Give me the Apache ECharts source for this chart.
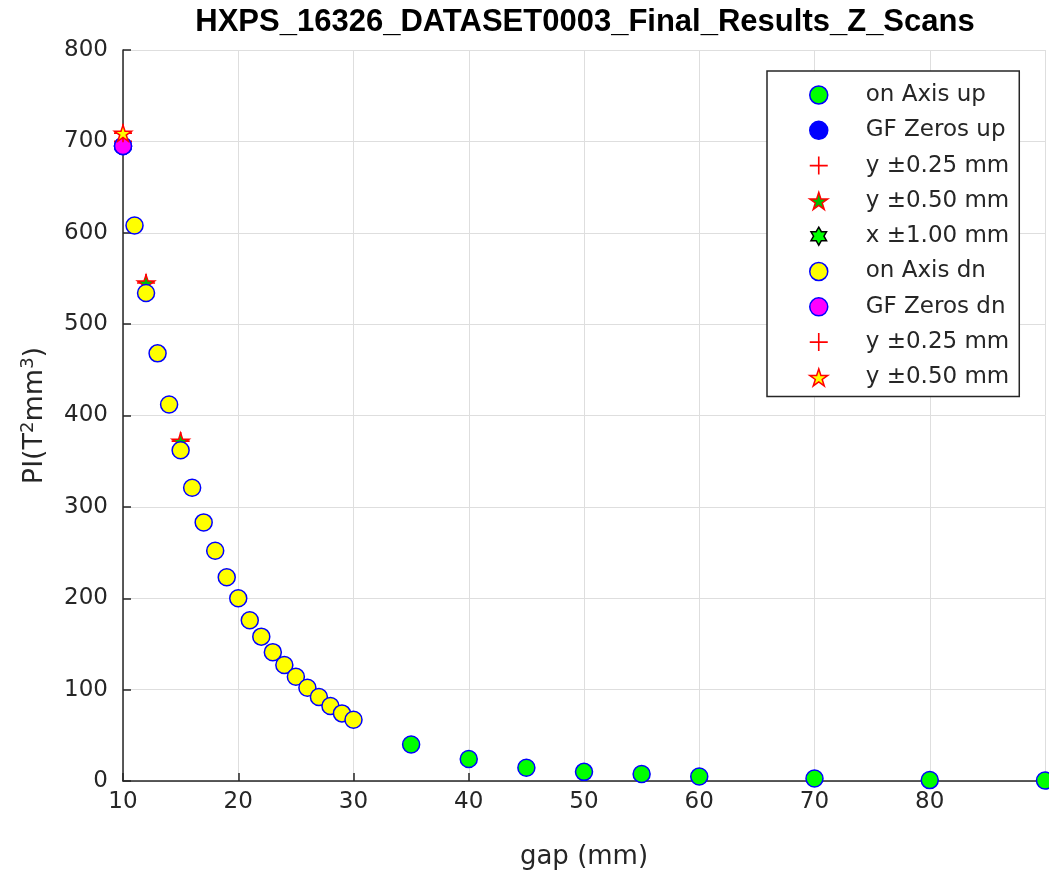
<!DOCTYPE html>
<html><head><meta charset="utf-8">
<script src="https://cdn.jsdelivr.net/npm/echarts@6/dist/echarts.min.js"></script>
<style>html,body{margin:0;padding:0;background:#fff}#c{width:1049px;height:874px}</style>
</head><body><div id="c"></div>
<script>
const titleText = 'HXPS_16326_DATASET0003_Final_Results_Z_Scans';
const xTicks = [10, 20, 30, 40, 50, 60, 70, 80];
const yTicks = [0, 100, 200, 300, 400, 500, 600, 700, 800];

// on Axis up
const upGap = [35, 40, 45, 50, 55, 60, 70, 80, 90];
const upPI  = [40, 24, 14.5, 10, 7.7, 5, 2.7, 1, 0.5];
// GF Zeros up
const gfUpGap = [10];
const gfUpPI  = [695];
// y ±0.25 mm (up)
const y25UpGap = [10, 12, 15];
const y25UpPI  = [700, 545, 372];
// y ±0.50 mm (up)
const y50UpGap = [12, 15];
const y50UpPI  = [545, 372];
// x ±1.00 mm
const x100Gap = [];
const x100PI  = [];
// on Axis dn
const dnGap = [10, 11, 12, 13, 14, 15, 16, 17, 18, 19, 20, 21, 22, 23, 24, 25, 26, 27, 28, 29, 30];
const dnPI  = [695, 608, 534, 468, 412, 362, 321, 283, 252, 223, 200, 176, 158, 141, 127, 114, 102, 92, 82, 74, 67];
// GF Zeros dn
const gfDnGap = [10];
const gfDnPI  = [695];
// y ±0.25 mm (dn)
const y25DnGap = [10];
const y25DnPI  = [709];
// y ±0.50 mm (dn)
const y50DnGap = [10];
const y50DnPI  = [709];

const FONT = '"DejaVu Sans", sans-serif';
const TFONT = '"Liberation Sans", Arial, sans-serif';
const TXT = '#262626';
const PLUS = 'path://M-0.9,-10 H0.9 V-0.9 H10 V0.9 H0.9 V10 H-0.9 V0.9 H-10 V-0.9 H-0.9 Z';
const STAR = 'path://M0,-10 L2.245,-3.09 L9.51,-3.09 L3.633,1.18 L5.88,8.09 L0,3.82 L-5.88,8.09 L-3.633,1.18 L-9.51,-3.09 L-2.245,-3.09 Z';
const HEX = 'path://M0,-10 L2.89,-5 L8.66,-5 L5.77,0 L8.66,5 L2.89,5 L0,10 L-2.89,5 L-8.66,5 L-5.77,0 L-8.66,-5 L-2.89,-5 Z';

function pts(xs, ys) { return xs.map((x, i) => [x, ys[i]]); }

const defs = [
  {name: 'on Axis up', xs: upGap, ys: upPI, symbol: 'circle', size: 17, style: {color: '#00ff00', borderColor: '#0000ff', borderWidth: 1.5}},
  {name: 'GF Zeros up', xs: gfUpGap, ys: gfUpPI, symbol: 'circle', size: 17, style: {color: '#0000ff', borderColor: '#0000ff', borderWidth: 1.5}},
  {name: 'y ±0.25 mm', xs: y25UpGap, ys: y25UpPI, symbol: PLUS, size: 18, style: {color: '#ff0000', borderWidth: 0}},
  {name: 'y ±0.50 mm', xs: y50UpGap, ys: y50UpPI, symbol: STAR, size: 17, style: {color: '#00c000', borderColor: '#ff0000', borderWidth: 1.5}},
  {name: 'x ±1.00 mm', xs: x100Gap, ys: x100PI, symbol: HEX, size: 16, style: {color: '#00ff00', borderColor: '#000000', borderWidth: 1.5}},
  {name: 'on Axis dn', xs: dnGap, ys: dnPI, symbol: 'circle', size: 17, style: {color: '#ffff00', borderColor: '#0000ff', borderWidth: 1.5}},
  {name: 'GF Zeros dn', xs: gfDnGap, ys: gfDnPI, symbol: 'circle', size: 17, style: {color: '#ff00ff', borderColor: '#0000ff', borderWidth: 1.5}},
  {name: 'y ±0.25 mm\u200b', xs: y25DnGap, ys: y25DnPI, symbol: PLUS, size: 18, style: {color: '#ff0000', borderWidth: 0}},
  {name: 'y ±0.50 mm\u200b', xs: y50DnGap, ys: y50DnPI, symbol: STAR, size: 17, style: {color: '#ffff00', borderColor: '#ff0000', borderWidth: 1.5}}
];

const chart = echarts.init(document.getElementById('c'), null, {renderer: 'canvas'});
chart.setOption({
  animation: false,
  backgroundColor: '#ffffff',
  textStyle: {fontFamily: FONT},
  graphic: [{
    type: 'text', x: 585, y: 7, silent: true,
    style: {text: titleText, font: 'bold 31px ' + TFONT, fill: '#000000', textAlign: 'center', textVerticalAlign: 'top'}
  }],
  grid: {left: 123, right: 4, top: 50, bottom: 93, containLabel: false, outerBoundsMode: 'none'},
  xAxis: {
    type: 'value', min: 10, max: 90, interval: 10,
    name: 'gap (mm)', nameLocation: 'middle', nameGap: 63,
    nameTextStyle: {fontSize: 26, color: TXT, fontFamily: FONT},
    axisLine: {show: true, lineStyle: {color: TXT, width: 1.5}},
    axisTick: {show: true, inside: true, length: 8, lineStyle: {color: TXT, width: 1.5}},
    axisLabel: {fontSize: 23, color: TXT, margin: 10, fontFamily: FONT,
      formatter: v => xTicks.includes(v) ? String(v) : ''},
    splitLine: {show: true, lineStyle: {color: '#dedede', width: 1}}
  },
  yAxis: {
    type: 'value', min: 0, max: 800, interval: 100,
    name: 'PI(T{s|2}mm{s|3})', nameLocation: 'middle', nameGap: 73, nameRotate: 90,
    nameTextStyle: {fontSize: 27, color: TXT, fontFamily: FONT,
      rich: {s: {fontSize: 18, color: TXT, fontFamily: FONT, verticalAlign: 'top', padding: [0, 0, 13, 0]}}},
    axisLine: {show: true, lineStyle: {color: TXT, width: 1.5}},
    axisTick: {show: true, inside: true, length: 8, lineStyle: {color: TXT, width: 1.5}},
    axisLabel: {fontSize: 23, color: TXT, margin: 15, fontFamily: FONT,
      formatter: v => yTicks.includes(v) ? String(v) : ''},
    splitLine: {show: true, lineStyle: {color: '#dedede', width: 1}}
  },
  legend: {
    orient: 'vertical', left: 767, top: 71,
    padding: [12, 10, 7, 42],
    itemGap: 11.3, itemWidth: 18, itemHeight: 18,
    backgroundColor: '#ffffff', borderColor: TXT, borderWidth: 1.5,
    textStyle: {fontSize: 23, color: TXT, fontFamily: FONT, padding: [0, 0, 0, 33], lineHeight: 24},
    formatter: n => n.replace('\u200b', ''),
    data: defs.map(d => ({name: d.name, icon: d.symbol, itemStyle: d.style})),
    selectedMode: false
  },
  series: defs.map((d, i) => ({
    type: 'scatter', name: d.name, data: pts(d.xs, d.ys),
    symbol: d.symbol, symbolSize: d.size, symbolKeepAspect: true,
    itemStyle: Object.assign({opacity: 1}, d.style), z: 2 + i,
    clip: false, emphasis: {disabled: true}
  }))
});
</script></body></html>
